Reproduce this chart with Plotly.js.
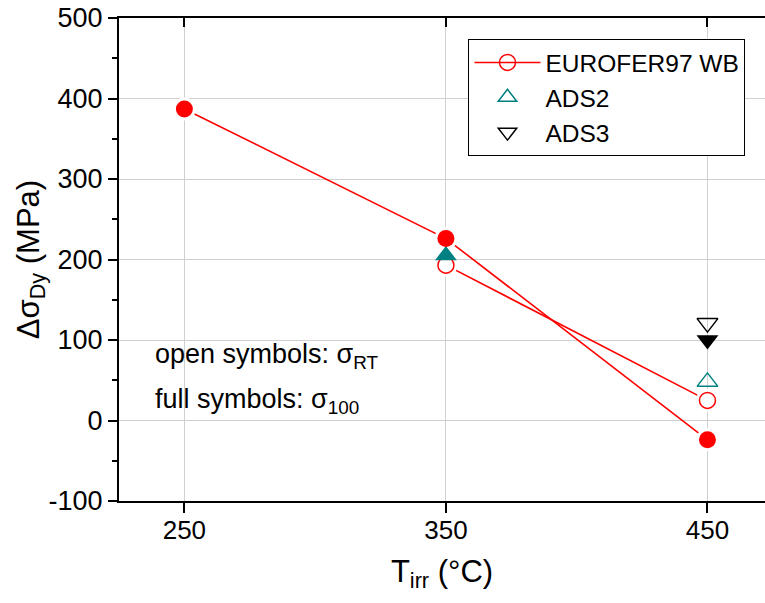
<!DOCTYPE html>
<html>
<head>
<meta charset="utf-8">
<script src="https://cdn.plot.ly/plotly-3.0.1.min.js"></script>
<style>html,body{margin:0;padding:0;background:#fff;}#chart{width:765px;height:603px;}</style>
</head>
<body>
<div id="chart"></div>
<script>
// Data
const tempFull = [250, 350, 450];           // EUROFER97 WB, sigma_100 (full symbols)
const euroFull = [387, 226, -24];
const tempOpen = [350, 450];                // EUROFER97 WB, sigma_RT (open symbols)
const euroOpen = [193, 25];
const ads2FullT = [350];  const ads2Full = [205];
const ads2OpenT = [450];  const ads2Open = [48];
const ads3FullT = [450];  const ads3Full = [100];
const ads3OpenT = [450];  const ads3Open = [121];
const xTicks = [250, 350, 450];
const yTicks = [-100, 0, 100, 200, 300, 400, 500];

const RED = '#ff0000', TEAL = '#008080', FONT = 'Liberation Sans, Arial, sans-serif';

const traces = [
  {x: tempFull, y: euroFull, mode: 'lines', line: {color: RED, width: 1.6}, showlegend: false, hoverinfo: 'skip'},
  {x: tempOpen, y: euroOpen, mode: 'lines+markers', name: 'EUROFER97 WB', line: {color: RED, width: 1.6},
   marker: {symbol: 'circle-open', size: 16, color: RED, line: {width: 1.5}}},
  // white halos giving the gap between lines and markers
  {x: tempFull.concat(tempOpen), y: euroFull.concat(euroOpen), mode: 'markers', showlegend: false, hoverinfo: 'skip',
   marker: {symbol: 'circle', size: 23, color: '#ffffff', line: {width: 0}}},
  {x: tempOpen, y: euroOpen, mode: 'markers', showlegend: false,
   marker: {symbol: 'circle', size: 16, color: '#ffffff', line: {color: RED, width: 1.5}}},
  {x: ads2OpenT, y: ads2Open, mode: 'markers', name: 'ADS2',
   marker: {symbol: 'triangle-up-open', size: 18, color: TEAL, line: {width: 1.5}}},
  {x: ads3OpenT, y: ads3Open, mode: 'markers', name: 'ADS3',
   marker: {symbol: 'triangle-down-open', size: 18, color: '#000000', line: {width: 1.5}}},
  {x: ads2FullT, y: ads2Full, mode: 'markers', showlegend: false,
   marker: {symbol: 'triangle-up', size: 19, color: TEAL, line: {width: 0}}},
  {x: ads3FullT, y: ads3Full, mode: 'markers', showlegend: false,
   marker: {symbol: 'triangle-down', size: 19, color: '#000000', line: {width: 0}}},
  {x: tempFull, y: euroFull, mode: 'markers', showlegend: false,
   marker: {symbol: 'circle', size: 17, color: RED, line: {width: 0}}}
];

const layout = {
  width: 765, height: 603,
  margin: {l: 119, r: 0, t: 18, b: 102},
  paper_bgcolor: '#ffffff', plot_bgcolor: '#ffffff',
  font: {family: FONT, color: '#000000', size: 26},
  showlegend: true,
  legend: {x: 0.541, y: 0.9565, xanchor: 'left', yanchor: 'top', bgcolor: '#ffffff',
           bordercolor: '#000000', borderwidth: 1, font: {family: FONT, size: 24.5, color: '#000'},
           tracegroupgap: 0, itemwidth: 66},
  xaxis: {range: [225, 472], tickvals: xTicks, ticktext: xTicks.map(String),
          ticks: 'outside', ticklen: 10, tickwidth: 2, tickcolor: '#000',
          showline: true, linewidth: 2, linecolor: '#000', mirror: true,
          showgrid: true, gridcolor: '#d0d0d0', gridwidth: 1, zeroline: false,
          tickfont: {family: FONT, size: 26}, ticklabelstandoff: -5,
          title: {text: 'T<sub>irr</sub> (°C)', font: {family: FONT, size: 31}, standoff: 16}},
  yaxis: {range: [-100, 500], tickvals: yTicks, ticktext: yTicks.map(String),
          ticks: 'outside', ticklen: 9, tickwidth: 2, tickcolor: '#000',
          minor: {dtick: 50, ticks: 'outside', ticklen: 5, tickwidth: 2, tickcolor: '#000', showgrid: false},
          showline: true, linewidth: 2, linecolor: '#000', mirror: true,
          showgrid: true, gridcolor: '#d0d0d0', gridwidth: 1, zeroline: false,
          tickfont: {family: FONT, size: 27},
          title: {text: 'Δσ<sub>Dy</sub> (MPa)', font: {family: FONT, size: 31}, standoff: 0}},
  xaxis2: {overlaying: 'x', side: 'top', anchor: 'y', range: [225, 472], tickvals: xTicks,
           showticklabels: false, ticks: 'inside', ticklen: 9, tickwidth: 2, tickcolor: '#000',
           showgrid: false, zeroline: false, showline: false},
  annotations: [
    {xref: 'paper', yref: 'paper', x: 0.052, y: 0.300, xanchor: 'left', yanchor: 'middle', showarrow: false,
     text: 'open symbols: σ<sub>RT</sub>', font: {family: FONT, size: 27, color: '#000'}},
    {xref: 'paper', yref: 'paper', x: 0.052, y: 0.208, xanchor: 'left', yanchor: 'middle', showarrow: false,
     text: 'full symbols: σ<sub>100</sub>', font: {family: FONT, size: 27, color: '#000'}}
  ]
};

// dummy invisible trace to attach the top axis
traces.push({x: [null], y: [null], xaxis: 'x2', yaxis: 'y', mode: 'markers', showlegend: false, hoverinfo: 'skip'});

Plotly.newPlot('chart', traces, layout, {displayModeBar: false, staticPlot: true});
</script>
</body>
</html>
